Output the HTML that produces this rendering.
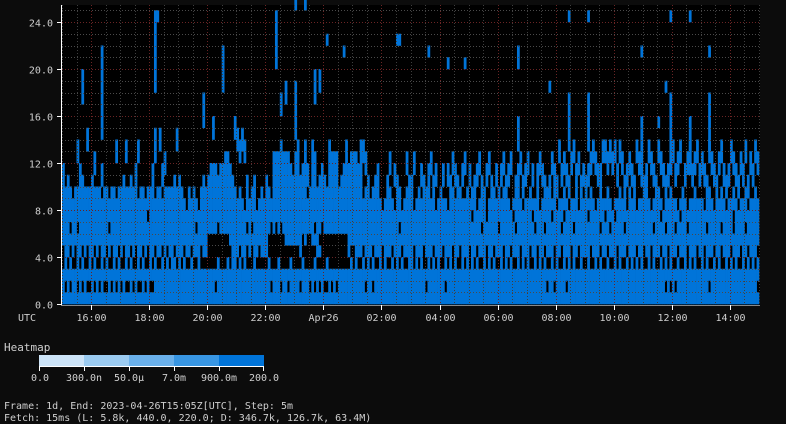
<!DOCTYPE html>
<html><head><meta charset="utf-8">
<style>
html,body{margin:0;padding:0;background:#0c0c0c;}
svg{display:block;font-family:"DejaVu Sans Mono","Liberation Mono",monospace;}
text{fill:#cfcfcf;font-size:10px;}
</style></head>
<body>
<svg id="chart" width="786" height="424" viewBox="0 0 786 424">
<rect x="0" y="0" width="786" height="424" fill="#0c0c0c"/>
<rect x="62" y="5" width="698" height="300" fill="#000"/>
<g id="cells"></g>
<g id="grid"></g>
<g id="axes"></g>
<g>
<text x="4" y="351" style="font-size:11px">Heatmap</text>
<rect x="39" y="355" width="45" height="11" fill="#cde4f8"/>
<rect x="84" y="355" width="45" height="11" fill="#9bcbf1"/>
<rect x="129" y="355" width="45" height="11" fill="#6ab0ea"/>
<rect x="174" y="355" width="45" height="11" fill="#3896e3"/>
<rect x="219" y="355" width="45" height="11" fill="#0074d9"/>
<g stroke="#fff" stroke-width="1">
<line x1="39.5" y1="366" x2="39.5" y2="371"/><line x1="84.5" y1="366" x2="84.5" y2="371"/><line x1="129.5" y1="366" x2="129.5" y2="371"/><line x1="174.5" y1="366" x2="174.5" y2="371"/><line x1="219.5" y1="366" x2="219.5" y2="371"/><line x1="263.5" y1="366" x2="263.5" y2="371"/><line x1="39" y1="366.5" x2="264" y2="366.5"/>
</g>
<text x="40" y="381" text-anchor="middle">0.0</text>
<text x="84" y="381" text-anchor="middle">300.0n</text>
<text x="129" y="381" text-anchor="middle">50.0µ</text>
<text x="174" y="381" text-anchor="middle">7.0m</text>
<text x="219" y="381" text-anchor="middle">900.0m</text>
<text x="264" y="381" text-anchor="middle">200.0</text>
</g>
<text x="4" y="409">Frame: 1d, End: 2023-04-26T15:05Z[UTC], Step: 5m</text>
<text x="4" y="421">Fetch: 15ms (L: 5.8k, 440.0, 220.0; D: 346.7k, 126.7k, 63.4M)</text>
</svg>
<script>
// ---- data ----
const solidTop = [].concat(
[10,10,9,10,9,10,10,10,9,10,10,10,9,10,10,10,9,10,10,9,10,10,9,10],
[10,9,10,10,9,10,10,9,10,10,9,10,8,10,9,10,10,9,10,10,8,10,9,10],
[9,10,9,8,10,9,10,9,8,10,9,10,11,12,12,12,11,12,12,13,13,12,11,10],
[9,10,9,8,9,9,10,9,8,9,10,9,9,8,9,13,13,13,12,13,13,13,10,9],
[11,12,11,12,12,9,10,12,11,10,11,12,11,10,12,13,13,13,10,11,12,12,10,11],
[13,13,12,12,9,10,9,9,8,9,10,9,8,9,9,10,9,8,9,10,8,9,10,9],
[9,8,9,10,9,9,8,10,9,9,8,9,10,9,9,8,9,10,9,9,8,9,9,10],
[9,10,9,8,9,9,10,8,9,9,10,9,8,9,10,9,9,8,9,9,10,9,8,9],
[9,10,9,9,10,8,9,9,10,9,9,10,8,9,9,10,9,8,9,9,10,8,9,9],
[9,9,10,9,8,9,10,9,9,10,9,8,9,9,10,9,9,8,10,9,9,8,9,9],
[9,10,9,8,9,9,10,9,8,9,9,10,9,9,8,9,10,9,8,9,9,10,9,9],
[9,8,9,10,9,8,9,9,10,9,8,9,9,10,9,8,9,9,10,8,9,9,10,9]);
const floatTop = [].concat(
[12,11,11,10,10,10,14,12,11,10,15,10,11,13,10,11,12,10,10,10,11,10,14,10],
[11,11,14,10,11,10,12,14,11,10,10,11,10,12,10,11,15,12,13,11,10,9,11,15],
[11,10,10,9,11,10,10,9,9,10,11,10,11,10,16,13,12,12,11,12,14,12,11,16],
[15,14,15,14,11,10,11,11,9,10,11,10,11,10,10,12,14,14,14,13,14,14,12,11],
[13,14,11,13,14,12,11,14,13,11,12,13,12,11,14,14,14,13,11,12,13,14,12,13],
[12,13,13,14,14,13,11,10,10,11,12,10,9,10,11,13,10,12,11,10,9,10,13,11],
[11,13,10,11,12,11,10,12,13,11,12,10,11,12,10,12,11,13,12,11,10,12,13,11],
[12,10,11,12,13,11,10,12,13,11,11,12,10,12,13,11,12,13,10,11,12,13,11,12],
[13,11,12,10,12,13,12,11,10,11,13,12,11,14,12,13,12,11,13,14,12,13,11,12],
[11,12,13,14,13,12,12,14,14,13,14,13,14,12,14,13,11,12,13,12,11,14,13,12],
[11,12,14,13,12,11,14,13,12,11,12,13,14,12,13,14,11,12,13,14,12,13,14,12],
[13,12,11,14,13,12,11,13,14,12,11,12,14,13,12,11,13,12,14,11,13,12,14,13]);
const gapRow1 = ["010100101011010101101010","101101011010110000000000","000000000000000100000000","000000000000001000100100","001000101010110101000000","000001001000000000000000","000000100000001000000000","000000000000000000000000","000000001001000010000000","000000000000000000000000","000000000101010000000000","000100000000000000000001"].join("");
const gapRow3 = ["101011010110101101011010","110101101011010110101001","010110110111111101110100","101011101111101110111101","111011110111101111111110","101101010110101101010110","010101101010110101011010","101011010101101010110101","011010101101011010101101","101101011011010110101010","110101101010110110101011","010110101101010110101010"].join("");
const gapRow4 = ["100101001010010100101001","010010100101001001010010","001001000100111111111100","010010100100011111111111","110111111001111111111101","100010001000100010001000","010001000100010001001000","100100010010001001000100","010010010001001000100100","001000100100010001000100","100100010010001000100010","010001001000100010010001"].join("");
const gapRow5 = ["000000000000000000000000","000000000000000000000000","000000000000111111111000","000000000000011111110000","000101100011111111111100","000000000000000000000000","000000000000000000000000","000000000000000000000000","000000000000000000000000","000000000000000000000000","000000000000000000000000","000000000000000000000000"].join("");
const gapRow6 = ["000100100000000000010000","000000000000000000000000","000000010000000010000000","000010100000001010100000","000000001001000000000000","000000000000000000010000","000000000000000000000000","000001000000100000010000","000100010000001000010000","000000100010000010000000","000010000100010000100000","001000001000010000100000"].join("");
const gapRow7 = ["000000000000000000000000","000000000001000000000000","000000000000000000000000","000000000000000000000000","000000000000000000000000","000000000000000000000000","000000000000000000000000","010000010000000000100000","001000000010000100000000","010000001000100000000000","000000010000000100000000","000000000000010000000000"].join("");
const spikeCol = [8,16,38,38,39,58,66,88,90,92,96,96,100,104,106,109,116,138,139,151,159,166,188,188,201,209,209,217,217,239,239,246,249,251,251,259,259,267,267];
const spikeFrom = [17,14,18,12,24,15,18,20,16,17,25,14,25,17,18,22,21,22,22,21,20,20,20,13,18,24,13,24,13,21,12,15,18,24,11,24,11,21,13];
const spikeTo = [20,22,25,15,25,18,22,25,18,19,26,19,26,20,20,23,22,23,23,22,21,21,22,16,19,25,18,25,18,22,16,16,19,25,18,25,16,22,18];
const yTicks = [0,4,8,12,16,20,24];
const yTickLabels = ["0.0","4.0","8.0","12.0","16.0","20.0","24.0"];
const xTickCols = [12,36,60,84,108,132,156,180,204,228,252,276];
const xTickLabels = ["16:00","18:00","20:00","22:00","Apr26","02:00","04:00","06:00","08:00","10:00","12:00","14:00"];

// ---- scales ----
const NS="http://www.w3.org/2000/svg";
const X0=62, W=697, NCOL=288, Y0=304, UNIT=11.75;
const cw=W/NCOL;
const xs=i=>X0+i*cw;
const ys=v=>Y0-v*UNIT;
const BLUE="#0074d9";
const cells=document.getElementById('cells');
function cell(i,r0,r1){
  const el=document.createElementNS(NS,'rect');
  el.setAttribute('x',xs(i).toFixed(2));
  el.setAttribute('y',ys(r1).toFixed(2));
  el.setAttribute('width',(cw+0.35).toFixed(2));
  el.setAttribute('height',((r1-r0)*UNIT+0.3).toFixed(2));
  el.setAttribute('fill',BLUE);
  
  
  cells.appendChild(el);
}
const gaps={1:gapRow1,3:gapRow3,4:gapRow4,5:gapRow5,6:gapRow6,7:gapRow7};
for(let i=0;i<NCOL;i++){
  const s=solidTop[i]||0;
  let start=-1;
  for(let r=0;r<=s;r++){
    const g=gaps[r];
    const on = r<s && !(g && g[i]==='1');
    if(on && start<0) start=r;
    if(!on && start>=0){cell(i,start,r);start=-1;}
  }
  const f=floatTop[i]||0;
  if(f>s+1) cell(i,f-2,f);
}
for(let k=0;k<spikeCol.length;k++) cell(spikeCol[k],spikeFrom[k],spikeTo[k]);

// grid
const grid=document.getElementById('grid');
function line(g,x1,y1,x2,y2,stroke,dash,name){
  const l=document.createElementNS(NS,'line');
  l.setAttribute('x1',x1);l.setAttribute('y1',y1);l.setAttribute('x2',x2);l.setAttribute('y2',y2);
  l.setAttribute('stroke',stroke);l.setAttribute('stroke-width','1');
  if(dash) l.setAttribute('stroke-dasharray',dash);
  
  
  g.appendChild(l);
}
for(let v=1;v<=25;v++){
  const y=Math.round(ys(v))+0.5;
  line(grid,62,y,760,y,v%4===0?"#6a2424":"#4a4a4a","1,2","h-grid-line");
}
for(let c=0;c<=NCOL;c+=6){
  const x=Math.round(xs(c))+0.5;
  const red=xTickCols.indexOf(c)>=0;
  line(grid,x,5,x,304,red?"#6a2424":"#3e3e3e","1,2","v-grid-line");
}
// axes
const axes=document.getElementById('axes');
line(axes,61.5,5,61.5,305,"#ffffff",null,"y-axis-line");
line(axes,61,305.5,760,305.5,"#888",null,"x-axis-line");
function txt(g,x,y,s,anchor,name){
  const t=document.createElementNS(NS,'text');
  t.setAttribute('x',x);t.setAttribute('y',y);t.setAttribute('text-anchor',anchor);
  t.textContent=s;
  
  
  g.appendChild(t);
}
yTicks.forEach((v,k)=>{
  const y=Math.round(ys(v))+0.5;
  line(axes,57,y,61,y,"#ffffff",null,"y-tick");
  txt(axes,53,y+4,yTickLabels[k],"end","y-tick-label");
});
xTickCols.forEach((c,k)=>{
  const x=Math.round(xs(c))+0.5;
  line(axes,x,305,x,310,"#ffffff",null,"x-tick");
  txt(axes,x,321,xTickLabels[k],"middle","x-tick-label");
});
txt(axes,18,321,"UTC","start","timezone-label");
</script>
</body></html>
